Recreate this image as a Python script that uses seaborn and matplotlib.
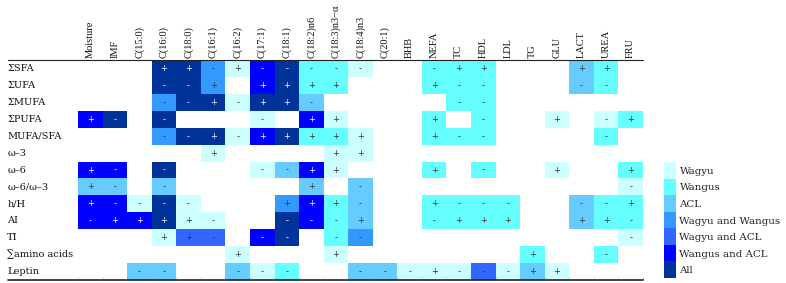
import numpy as np
import pandas as pd
import matplotlib
matplotlib.use("Agg")
import matplotlib.pyplot as plt
from matplotlib.colors import ListedColormap
import seaborn as sns

# --- data ---
columns = ["Moisture", "IMF", "C(15:0)", "C(16:0)", "C(18:0)", "C(16:1)", "C(16:2)",
           "C(17:1)", "C(18:1)", "C(18:2)n6", "C(18:3)n3\u2212\u03b1", "C(18:4)n3", "C(20:1)",
           "BHB", "NEFA", "TC", "HDL", "LDL", "TG", "GLU", "LACT", "UREA", "FRU"]
rows = ["\u03a3SFA", "\u03a3UFA", "\u03a3MUFA", "\u03a3PUFA", "MUFA/SFA", "\u03c9\u20133",
        "\u03c9\u20136", "\u03c9\u20136/\u03c9\u20133", "h/H", "AI", "TI",
        "\u2211amino acids", "Leptin"]
groups = ["Wagyu", "Wangus", "ACL", "Wagyu and Wangus", "Wagyu and ACL",
          "Wangus and ACL", "All"]
group_colors = ["#CCFFFF", "#66FFFF", "#66CCFF", "#3399FF", "#3366FF", "#0000FF", "#003399"]

# one token per column: "." = no association, "<group code><sign>"
sfa     = ". . . 7+ 7+ 4- 1+ 6- 7- 2- 2- 1- . . 2- 2+ 2+ . . . 3+ 2+ ."
ufa     = ". . . 7- 7- 4+ . 6+ 7+ 2+ 2+ . . . 2+ 2- 2- . . . 3- 2- ."
mufa    = ". . . 4- 7- 7+ 1- 7+ 7+ 3- . . . . . 2- 2- . . . . . ."
pufa    = "6+ 7- . 7- . . . 1- . 6+ 1+ . . . 2+ . 2- . . 1+ . 1- 2+"
mufa_sfa = ". . . 4- 7- 7+ 1- 6+ 7+ 2+ 2+ 1+ . . 2+ 2- 2- . . . . 2- ."
w3      = ". . . . . 1+ . . . . 1+ 1+ . . . . . . . . . . ."
w6      = "6+ 6- . 7- . . . 1- 3- 6+ 1+ . . . 2+ . 2- . . 1+ . . 2+"
w6_w3   = "3+ 3- . 3- . . . . . 3+ . 3- . . . . . . . . . . 1-"
hH      = "6+ 6- 1- 7- 1- . . . 4+ 6+ 2+ 3- . . 2+ 2- 2- 2- . . 3- 2- 2+"
ai      = "6- 6+ 6+ 7+ 1+ 1- . . 7- 6- 2- 3+ . . 2- 2+ 2+ 2+ . . 3+ 2+ 2-"
ti      = ". . . 1+ 5+ 5- . 6- 7- . 2- 4- . . . . . . . . . . 1-"
amino   = ". . . . . . 1+ . . . 1+ . . . . . . . 2+ . . 2- ."
leptin  = ". . 3- 3- . . 3- 1- 2- . . 3- 3- 1- 1+ 1- 5- 1- 3+ 1+ . . ."

cells = [sfa, ufa, mufa, pufa, mufa_sfa, w3, w6, w6_w3, hH, ai, ti, amino, leptin]
codes = np.array([[0 if t == "." else int(t[0]) for t in r.split()] for r in cells])
signs = np.array([["" if t == "." else t[1] for t in r.split()] for r in cells])
codes_df = pd.DataFrame(codes, index=rows, columns=columns)

# --- drawing ---
sns.set_style("white")
plt.rcParams["font.family"] = ["DejaVu Serif"]
header_font = ["Liberation Serif", "DejaVu Serif"]

W, H = 786, 283
fig = plt.figure(figsize=(W / 100, H / 100), dpi=100)
ax = fig.add_axes([78 / W, 3 / H, 565 / W, 220 / H])
lax = fig.add_axes([664 / W, 5 / H, 12 / W, 116 / H])

cmap = ListedColormap(["white"] + group_colors)

sns.heatmap(codes_df, ax=ax, cmap=cmap, vmin=-0.5, vmax=7.5, cbar=False,
            annot=signs, fmt="", annot_kws={"fontsize": 6, "family": "DejaVu Sans"},
            xticklabels=columns, yticklabels=rows)

# sign colour: white on the dark blues
for t in ax.texts:
    x, y = t.get_position()
    c = codes[int(y), int(x)]
    t.set_color("white" if c >= 6 else "#333333")

ax.xaxis.tick_top()
ax.set_xticklabels(columns, rotation=90, fontsize=7.5, family=header_font, color="#111111")
ax.set_yticklabels(rows, rotation=0, ha="left", fontsize=7, color="#111111")
ax.tick_params(axis="x", length=0, pad=1.5)
ax.tick_params(axis="y", length=0, pad=51)
ax.set_xlabel("")
ax.set_ylabel("")

n_cols, n_rows = len(columns), len(rows)
x_left = -70.5 / (565 / n_cols)
ax.plot([x_left, n_cols], [0, 0], color="#222222", lw=0.8, clip_on=False)
ax.plot([x_left, n_cols], [n_rows, n_rows], color="#222222", lw=1.2, clip_on=False)
ax.vlines(np.arange(n_cols + 1), n_rows - 0.1, n_rows, color="#555555", lw=0.6, clip_on=False)
ax.set_xlim(0, n_cols)
ax.set_ylim(n_rows, 0)

# legend column
legend_df = pd.DataFrame({"g": np.arange(1, len(groups) + 1)}, index=groups)
sns.heatmap(legend_df, ax=lax, cmap=cmap, vmin=-0.5, vmax=7.5, cbar=False,
            xticklabels=False, yticklabels=groups)
lax.yaxis.tick_right()
lax.set_yticklabels(groups, rotation=0, ha="left", fontsize=7.4, color="#222222")
lax.tick_params(axis="y", length=0, pad=2.5)
lax.set_ylabel("")

fig.savefig("out.png", dpi=100)
